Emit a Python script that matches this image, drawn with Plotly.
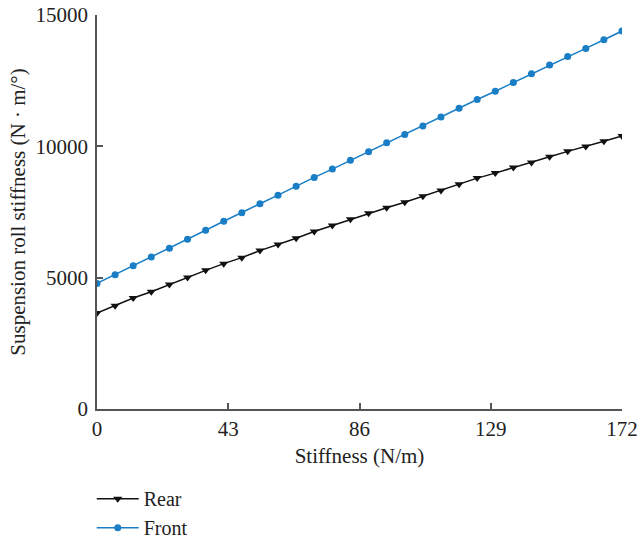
import plotly.graph_objects as go

stiffness = [0.00, 5.93, 11.86, 17.79, 23.72, 29.66, 35.59, 41.52, 47.45, 53.38,
             59.31, 65.24, 71.17, 77.10, 83.03, 88.97, 94.90, 100.83, 106.76, 112.69,
             118.62, 124.55, 130.48, 136.41, 142.34, 148.28, 154.21, 160.14, 166.07, 172.00]
rear = [3653, 3931, 4225, 4466, 4744, 5011, 5279, 5534, 5763, 6031,
        6260, 6500, 6756, 6985, 7225, 7454, 7664, 7874, 8103, 8321,
        8561, 8790, 8981, 9198, 9389, 9607, 9809, 9989, 10191, 10393]
front = [4782, 5115, 5458, 5790, 6118, 6462, 6805, 7149, 7469, 7813,
         8141, 8485, 8817, 9134, 9466, 9798, 10141, 10447, 10775, 11118,
         11450, 11782, 12099, 12431, 12760, 13092, 13424, 13729, 14057, 14389]
x_ticks = [0, 43, 86, 129, 172]
y_ticks = [0, 5000, 10000, 15000]

FONT = "Liberation Serif"
AX = "#555555"
TXT = "#222222"

fig = go.Figure()
fig.add_trace(go.Scatter(x=stiffness, y=rear, name="Rear", mode="lines+markers",
                         line=dict(color="#111111", width=1.5),
                         marker=dict(symbol="triangle-down", size=8, color="#111111")))
fig.add_trace(go.Scatter(x=stiffness, y=front, name="Front", mode="lines+markers",
                         line=dict(color="#1a7ec6", width=1.5),
                         marker=dict(symbol="circle", size=7, color="#1a7ec6")))

fig.update_layout(
    width=638, height=542,
    margin=dict(l=97, r=16, t=15, b=133, autoexpand=False),
    paper_bgcolor="white", plot_bgcolor="white",
    font=dict(family=FONT, size=21, color=TXT),
    showlegend=True,
    legend=dict(x=-0.01, y=-0.178, xanchor="left", yanchor="top",
                font=dict(family=FONT, size=20, color=TXT), itemwidth=42,
                bgcolor="rgba(0,0,0,0)", tracegroupgap=0),
    xaxis=dict(range=[0, 172], tickvals=x_ticks, ticktext=[str(v) for v in x_ticks],
               showgrid=False, zeroline=False, showline=True, linecolor=AX, linewidth=1.5,
               ticks="inside", ticklen=6, tickcolor=AX, tickwidth=1.5, automargin=False,
               title=dict(text="Stiffness (N/m)", font=dict(family=FONT, size=21), standoff=8)),
    yaxis=dict(range=[0, 15000], tickvals=y_ticks, ticktext=[str(v) for v in y_ticks],
               showgrid=False, zeroline=False, showline=True, linecolor=AX, linewidth=1.5,
               ticks="inside", ticklen=6, tickcolor=AX, tickwidth=1.5, automargin=False,
               ticklabelstandoff=3),
    annotations=[dict(text="Suspension roll stiffness (N · m/°)", textangle=-90,
                      xref="paper", yref="paper", x=-0.151, y=0.5,
                      xanchor="center", yanchor="middle", showarrow=False,
                      font=dict(family=FONT, size=21, color=TXT))],
)

fig.write_html("out.html", config={"displayModeBar": False},
               post_script="document.body.style.margin='0';document.body.style.padding='0';")
